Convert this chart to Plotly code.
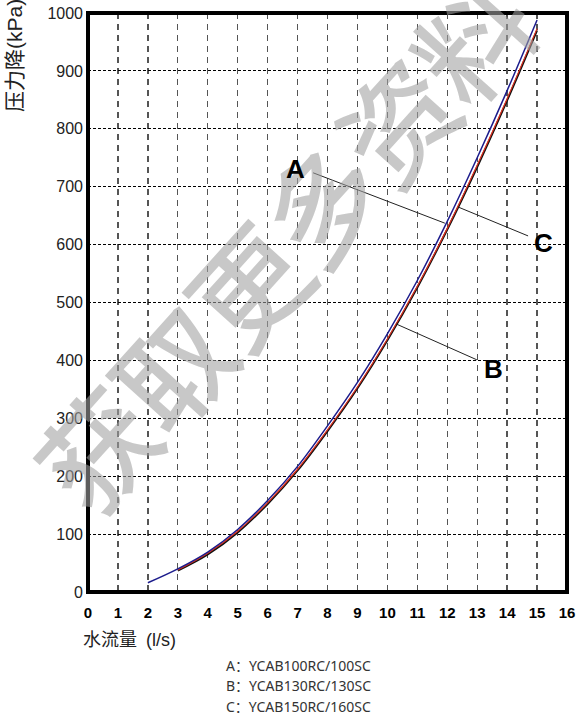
import plotly.graph_objects as go

# ---------------- data ----------------
flow_a = [2, 3, 4, 5, 6, 7, 8, 9, 10, 11, 12, 13, 14, 15]
drop_a = [16, 40, 69, 108, 158, 217, 287, 362, 446, 538, 640, 750, 866, 988]

flow_b = [3, 4, 5, 6, 7, 8, 9, 10, 11, 12, 13, 14, 15]
drop_b = [38, 67, 105, 154, 212, 280, 354, 437, 528, 628, 737, 852, 973]

flow_c = [3, 4, 5, 6, 7, 8, 9, 10, 11, 12, 13, 14, 15]
drop_c = [37, 65, 103, 152, 210, 278, 352, 435, 526, 626, 734, 849, 970]

x_ticks = list(range(0, 17))
y_ticks = list(range(0, 1001, 100))

legend_lines = ["A：YCAB100RC/100SC", "B：YCAB130RC/130SC", "C：YCAB150RC/160SC"]
watermark_chars = list("获取更多资料")

# label annotation positions (data coords) and leader lines
label_text = ["A", "B", "C"]
label_x = [6.94, 13.55, 15.2]
label_y = [730, 385, 603]
leader_x0 = [7.52, 10.29, 12.36]
leader_y0 = [724, 463, 665]
leader_x1 = [11.92, 12.99, 14.70]
leader_y1 = [637, 401, 615]

# ---------------- layout geometry ----------------
W, H = 577, 715
ML, MR, MT, MB = 88, 10, 13, 123
PW, PH = W - ML - MR, H - MT - MB


def px(x):
    return (x - ML) / PW


def py(y):
    return (H - MB - y) / PH


fig = go.Figure()
fig.add_trace(go.Scatter(x=flow_c, y=drop_c, mode="lines",
                         line=dict(color="#111111", width=2.0, shape="spline"),
                         hoverinfo="skip"))
fig.add_trace(go.Scatter(x=flow_b, y=drop_b, mode="lines",
                         line=dict(color="#e0301e", width=1.2, shape="spline"),
                         hoverinfo="skip"))
fig.add_trace(go.Scatter(x=flow_a, y=drop_a, mode="lines",
                         line=dict(color="#1c1c8c", width=1.5, shape="spline"),
                         hoverinfo="skip"))

annotations = []
# watermark
for i, ch in enumerate(watermark_chars):
    annotations.append(dict(
        text=ch, xref="paper", yref="paper",
        x=px(95 + 75 * i), y=py(447 - 82 * i),
        xanchor="center", yanchor="middle", showarrow=False, textangle=-48,
        font=dict(family="Noto Sans CJK SC", size=114, weight=500,
                  color="rgba(160,160,160,0.58)")))

for t, x, y in zip(label_text, label_x, label_y):
    annotations.append(dict(text="<b>%s</b>" % t, x=x, y=y, xref="x", yref="y",
                            showarrow=False, xanchor="center", yanchor="middle",
                            font=dict(family="Liberation Sans", size=26, color="black")))

# axis titles
annotations.append(dict(text="压力降(kPa)", xref="paper", yref="paper",
                        x=px(14), y=py(56), xanchor="center", yanchor="middle",
                        textangle=-90, showarrow=False,
                        font=dict(family="Liberation Sans, Noto Sans CJK SC", size=21, color="#222")))
annotations.append(dict(text="水流量\u2002(l/s)", xref="paper", yref="paper",
                        x=px(81), y=py(640), xanchor="left", yanchor="middle",
                        showarrow=False,
                        font=dict(family="Liberation Sans, Noto Sans CJK SC", size=18, color="#222")))
for i, line in enumerate(legend_lines):
    annotations.append(dict(text=line, xref="paper", yref="paper",
                            x=px(224), y=py(665 + 20.5 * i), xanchor="left", yanchor="middle",
                            showarrow=False,
                            font=dict(family="Noto Sans, Noto Sans CJK SC", size=14, color="#333")))

shapes = [dict(type="line", xref="x", yref="y", x0=a, y0=b, x1=c, y1=d,
               line=dict(color="#222", width=1))
          for a, b, c, d in zip(leader_x0, leader_y0, leader_x1, leader_y1)]
shapes.append(dict(type="rect", xref="paper", yref="paper", x0=0, y0=0, x1=1, y1=1,
                   line=dict(color="black", width=4), layer="above"))

fig.update_layout(
    width=W, height=H, margin=dict(l=ML, r=MR, t=MT, b=MB),
    paper_bgcolor="white", plot_bgcolor="white", showlegend=False,
    hovermode=False, annotations=annotations, shapes=shapes,
    xaxis=dict(range=[0, 16], tickvals=x_ticks, ticks="", showline=False, zeroline=False,
               showgrid=True, gridcolor="#555", griddash="6px,5px", gridwidth=1.3,
               tickfont=dict(family="Liberation Sans", size=15, color="black", weight="bold"),
               ticklabelstandoff=10, fixedrange=True, automargin=False),
    yaxis=dict(range=[0, 1000], tickvals=y_ticks, ticks="", showline=False, zeroline=False,
               showgrid=True, gridcolor="black", griddash="3px,2px", gridwidth=1,
               tickfont=dict(family="Liberation Sans", size=16, color="#222"),
               ticklabelstandoff=4, fixedrange=True, automargin=False),
)

fig.write_html("out.html", config={"displayModeBar": False, "staticPlot": True},
               post_script="document.body.style.margin='0';document.body.style.overflow='hidden';")
